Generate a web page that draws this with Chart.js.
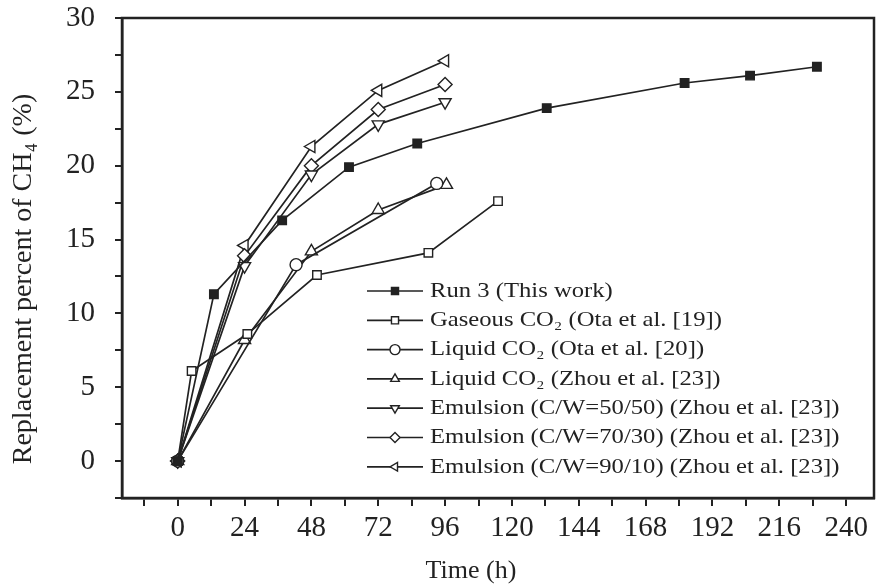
<!DOCTYPE html>
<html>
<head>
<meta charset="utf-8">
<script src="https://cdn.jsdelivr.net/npm/chart.js@4.4.1/dist/chart.umd.min.js"></script>
<style>
  html, body { margin: 0; padding: 0; background: #fff; }
  #wrap { width: 877px; height: 587px; }
</style>
</head>
<body>
<div id="wrap"><canvas id="replaceChart"></canvas></div>
<script>
// values (time in h, replacement percent of CH4)
const run3Hours = [0, 13, 37.5, 61.5, 86, 132.5, 182, 205.5, 229.5];
const run3Pct = [0, 11.3, 16.3, 19.9, 21.5, 23.9, 25.6, 26.1, 26.7];

const gasHours = [0, 5, 25, 50, 90, 115];
const gasPct = [0, 6.1, 8.6, 12.6, 14.1, 17.6];

const otaLiqHours = [0, 42.5, 93];
const otaLiqPct = [0, 13.3, 18.8];

const zhouLiqHours = [0, 24, 48, 72, 96.5];
const zhouLiqPct = [0, 8.2, 14.2, 17.0, 18.7];

const emHours = [0, 24, 48, 72, 96];
const em50Pct = [0, 13.2, 19.4, 22.8, 24.3];
const em70Pct = [0, 13.9, 20.0, 23.8, 25.5];
const em90Pct = [0, 14.6, 21.3, 25.1, 27.1];

const xTicks = [-12, 0, 12, 24, 36, 48, 60, 72, 84, 96, 108, 120, 132, 144, 156, 168, 180, 192, 204, 216, 228, 240];

const xTitle = 'Time (h)';
const yTitle = 'Replacement percent of CH\u2084 (%)';

const ink = '#222';
const serif = '"Liberation Serif", "Times New Roman", serif';

const toPoints = (xs, ys) => xs.map((x, i) => ({ x: x, y: ys[i] }));

function series(label, xs, ys, style, rotation, filled) {
  return {
    label: label,
    data: toPoints(xs, ys),
    borderColor: ink,
    borderWidth: 1.7,
    pointStyle: style,
    rotation: rotation,
    pointRadius: style === 'triangle' || style === 'rectRot' ? 7 : 6,
    pointBorderWidth: 1.4,
    pointBorderColor: ink,
    pointBackgroundColor: filled ? ink : '#fff',
    fill: false,
    tension: 0
  };
}

// legend drawn inside the plot, lower right
const insideLegend = {
  id: 'insideLegend',
  afterDatasetsDraw(chart) {
    const ctx = chart.ctx;
    const x0 = 367, x1 = 423, tx = 430;
    let y = 291;
    ctx.save();
    chart.data.datasets.forEach(ds => {
      ctx.strokeStyle = ink;
      ctx.lineWidth = 1.7;
      ctx.beginPath();
      ctx.moveTo(x0, y);
      ctx.lineTo(x1, y);
      ctx.stroke();
      ctx.fillStyle = ds.pointBackgroundColor;
      ctx.lineWidth = 1.4;
      Chart.helpers.drawPoint(ctx, {
        pointStyle: ds.pointStyle,
        rotation: ds.rotation,
        radius: 5,
        borderWidth: 1.4
      }, (x0 + x1) / 2, y);
      // the source figure is a bit wider than normal type
      ctx.save();
      ctx.translate(tx, y);
      ctx.scale(1.12, 1);
      ctx.fillStyle = ink;
      ctx.font = '22px ' + serif;
      ctx.textBaseline = 'middle';
      ctx.textAlign = 'left';
      ctx.fillText(ds.label, 0, 0);
      ctx.restore();
      y += 29.3;
    });
    ctx.restore();
  }
};

// closes the frame and writes both axis titles
const frameBox = {
  id: 'frameBox',
  afterDraw(chart) {
    const a = chart.chartArea;
    const ctx = chart.ctx;
    ctx.save();
    ctx.strokeStyle = ink;
    ctx.lineWidth = 2.5;
    ctx.strokeRect(a.left, a.top, a.right - a.left, a.bottom - a.top);

    ctx.fillStyle = ink;
    ctx.textAlign = 'center';
    ctx.textBaseline = 'middle';
    ctx.font = '26px ' + serif;
    ctx.fillText(xTitle, 471, 571);

    ctx.font = '28px ' + serif;
    ctx.translate(24, 279);
    ctx.rotate(-Math.PI / 2);
    ctx.fillText(yTitle, 0, 0);
    ctx.restore();
  }
};

new Chart(document.getElementById('replaceChart'), {
  type: 'line',
  data: {
    datasets: [
      series('Run 3 (This work)', run3Hours, run3Pct, 'rect', 0, true),
      series('Gaseous CO\u2082 (Ota et al. [19])', gasHours, gasPct, 'rect', 0, false),
      series('Liquid CO\u2082 (Ota et al. [20])', otaLiqHours, otaLiqPct, 'circle', 0, false),
      series('Liquid CO\u2082 (Zhou et al. [23])', zhouLiqHours, zhouLiqPct, 'triangle', 0, false),
      series('Emulsion (C/W=50/50) (Zhou et al. [23])', emHours, em50Pct, 'triangle', 180, false),
      series('Emulsion (C/W=70/30) (Zhou et al. [23])', emHours, em70Pct, 'rectRot', 0, false),
      series('Emulsion (C/W=90/10) (Zhou et al. [23])', emHours, em90Pct, 'triangle', -90, false)
    ]
  },
  options: {
    responsive: true,
    maintainAspectRatio: false,
    animation: false,
    layout: { autoPadding: false, padding: { top: 18, right: 3, left: 0, bottom: 0 } },
    plugins: { legend: { display: false }, tooltip: { enabled: false } },
    scales: {
      x: {
        type: 'linear',
        min: -20,
        max: 250,
        afterBuildTicks: (scale) => { scale.ticks = xTicks.map(v => ({ value: v })); },
        afterFit: (scale) => {
          scale.height = 89;
          scale.paddingLeft = 0;
          scale.paddingRight = 0;
        },
        border: { color: ink, width: 2.5 },
        grid: { drawOnChartArea: false, color: ink, tickLength: 8, lineWidth: 2 },
        ticks: {
          color: ink,
          font: { family: serif, size: 29 },
          padding: 5,
          maxRotation: 0,
          autoSkip: false,
          callback: (v) => (v >= 0 && v % 24 === 0 ? v : '')
        }
      },
      y: {
        min: -2.5,
        max: 30,
        afterFit: (scale) => {
          scale.width = 122;
          scale.paddingTop = 0;
          scale.paddingBottom = 0;
        },
        border: { color: ink, width: 2.5 },
        grid: { drawOnChartArea: false, color: ink, tickLength: 7, lineWidth: 2 },
        ticks: {
          stepSize: 2.5,
          color: ink,
          font: { family: serif, size: 29 },
          padding: 20,
          autoSkip: false,
          callback: (v) => (v % 5 === 0 ? v : '')
        }
      }
    }
  },
  plugins: [insideLegend, frameBox]
});
</script>
</body>
</html>
